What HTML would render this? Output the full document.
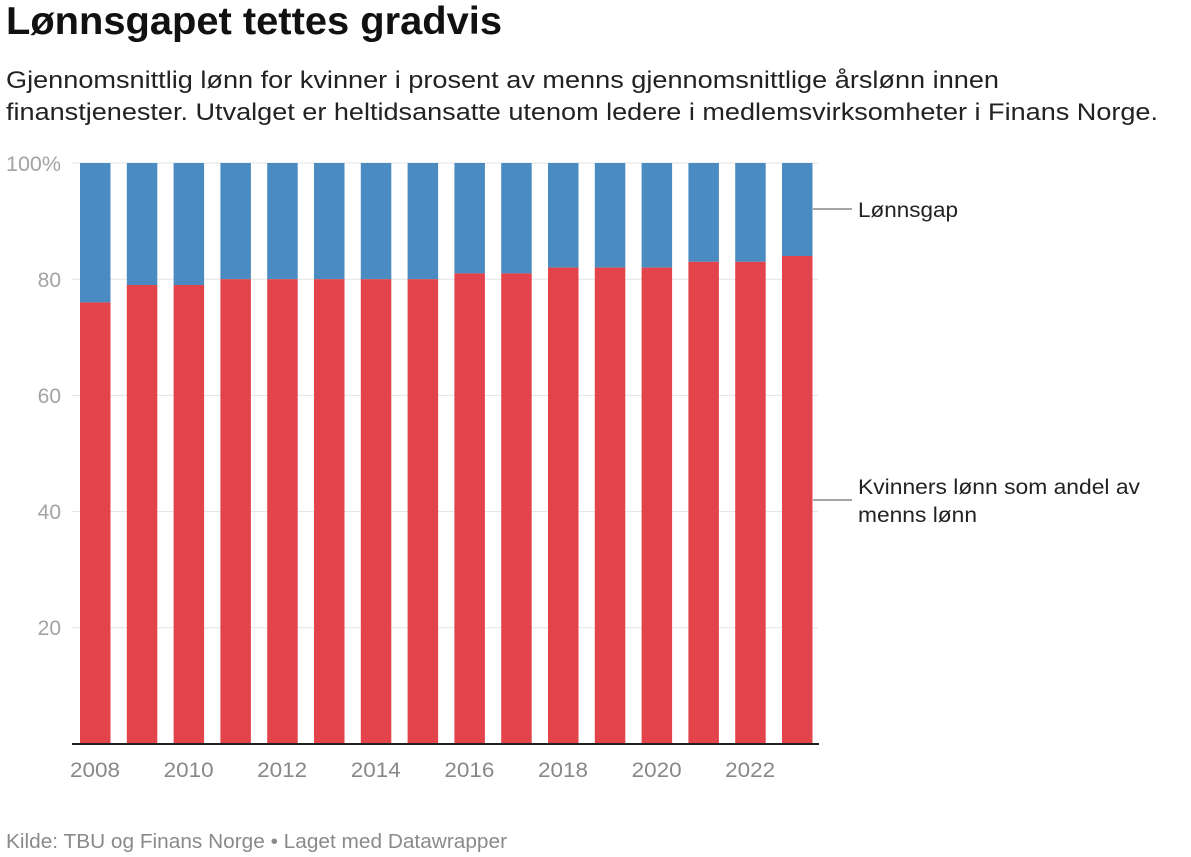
<!DOCTYPE html>
<html><head><meta charset="utf-8"><style>
html,body{margin:0;padding:0;background:#fff;}
svg{display:block;}
text{font-family:"Liberation Sans",Arial,sans-serif;}
</style></head><body>
<svg width="1191" height="857" viewBox="0 0 1191 857" xmlns="http://www.w3.org/2000/svg">
<rect width="1191" height="857" fill="#fff"/>
<text x="6" y="34" font-size="39" font-weight="bold" fill="#111" textLength="496" lengthAdjust="spacingAndGlyphs">Lønnsgapet tettes gradvis</text>
<text x="6" y="88" font-size="24" fill="#222" textLength="993" lengthAdjust="spacingAndGlyphs">Gjennomsnittlig lønn for kvinner i prosent av menns gjennomsnittlige årslønn innen</text>
<text x="6" y="120" font-size="24" fill="#222" textLength="1152" lengthAdjust="spacingAndGlyphs">finanstjenester. Utvalget er heltidsansatte utenom ledere i medlemsvirksomheter i Finans Norge.</text>
<g stroke="#e3e3e3" stroke-width="1">
<line x1="72" y1="163" x2="818" y2="163"/>
<line x1="72" y1="279.2" x2="818" y2="279.2"/>
<line x1="72" y1="395.4" x2="818" y2="395.4"/>
<line x1="72" y1="511.6" x2="818" y2="511.6"/>
<line x1="72" y1="627.8" x2="818" y2="627.8"/>
</g>
<g font-size="21" fill="#a3a3a3" text-anchor="end">
<text x="61" y="171" textLength="55" lengthAdjust="spacingAndGlyphs">100%</text>
<text x="61" y="287">80</text>
<text x="61" y="403">60</text>
<text x="61" y="519">40</text>
<text x="61" y="635">20</text>
</g>
<g font-size="21" fill="#888" text-anchor="middle">
<text x="95" y="777" textLength="50" lengthAdjust="spacingAndGlyphs">2008</text>
<text x="188.6" y="777" textLength="50" lengthAdjust="spacingAndGlyphs">2010</text>
<text x="282.2" y="777" textLength="50" lengthAdjust="spacingAndGlyphs">2012</text>
<text x="375.8" y="777" textLength="50" lengthAdjust="spacingAndGlyphs">2014</text>
<text x="469.4" y="777" textLength="50" lengthAdjust="spacingAndGlyphs">2016</text>
<text x="563" y="777" textLength="50" lengthAdjust="spacingAndGlyphs">2018</text>
<text x="656.6" y="777" textLength="50" lengthAdjust="spacingAndGlyphs">2020</text>
<text x="750.2" y="777" textLength="50" lengthAdjust="spacingAndGlyphs">2022</text>
</g>
<line x1="813" y1="209" x2="852" y2="209" stroke="#888" stroke-width="1.5"/>
<text x="858" y="217" font-size="21" fill="#222" textLength="100" lengthAdjust="spacingAndGlyphs">Lønnsgap</text>
<line x1="813" y1="500" x2="852" y2="500" stroke="#888" stroke-width="1.5"/>
<text x="858" y="494" font-size="21" fill="#222" textLength="282" lengthAdjust="spacingAndGlyphs">Kvinners lønn som andel av</text>
<text x="858" y="522" font-size="21" fill="#222" textLength="119" lengthAdjust="spacingAndGlyphs">menns lønn</text>
<text x="6" y="848" font-size="20" fill="#8a8a8a" textLength="501" lengthAdjust="spacingAndGlyphs">Kilde: TBU og Finans Norge • Laget med Datawrapper</text>
<g>
<rect x="80" y="163" width="30.5" height="139.4" fill="#4a8bc1"/><rect x="80" y="302.4" width="30.5" height="441.6" fill="#e3434a"/>
<rect x="126.8" y="163" width="30.5" height="122" fill="#4a8bc1"/><rect x="126.8" y="285" width="30.5" height="459" fill="#e3434a"/>
<rect x="173.6" y="163" width="30.5" height="122" fill="#4a8bc1"/><rect x="173.6" y="285" width="30.5" height="459" fill="#e3434a"/>
<rect x="220.4" y="163" width="30.5" height="116.2" fill="#4a8bc1"/><rect x="220.4" y="279.2" width="30.5" height="464.8" fill="#e3434a"/>
<rect x="267.2" y="163" width="30.5" height="116.2" fill="#4a8bc1"/><rect x="267.2" y="279.2" width="30.5" height="464.8" fill="#e3434a"/>
<rect x="314" y="163" width="30.5" height="116.2" fill="#4a8bc1"/><rect x="314" y="279.2" width="30.5" height="464.8" fill="#e3434a"/>
<rect x="360.8" y="163" width="30.5" height="116.2" fill="#4a8bc1"/><rect x="360.8" y="279.2" width="30.5" height="464.8" fill="#e3434a"/>
<rect x="407.6" y="163" width="30.5" height="116.2" fill="#4a8bc1"/><rect x="407.6" y="279.2" width="30.5" height="464.8" fill="#e3434a"/>
<rect x="454.4" y="163" width="30.5" height="110.4" fill="#4a8bc1"/><rect x="454.4" y="273.4" width="30.5" height="470.6" fill="#e3434a"/>
<rect x="501.2" y="163" width="30.5" height="110.4" fill="#4a8bc1"/><rect x="501.2" y="273.4" width="30.5" height="470.6" fill="#e3434a"/>
<rect x="548" y="163" width="30.5" height="104.6" fill="#4a8bc1"/><rect x="548" y="267.6" width="30.5" height="476.4" fill="#e3434a"/>
<rect x="594.8" y="163" width="30.5" height="104.6" fill="#4a8bc1"/><rect x="594.8" y="267.6" width="30.5" height="476.4" fill="#e3434a"/>
<rect x="641.6" y="163" width="30.5" height="104.6" fill="#4a8bc1"/><rect x="641.6" y="267.6" width="30.5" height="476.4" fill="#e3434a"/>
<rect x="688.4" y="163" width="30.5" height="98.8" fill="#4a8bc1"/><rect x="688.4" y="261.8" width="30.5" height="482.2" fill="#e3434a"/>
<rect x="735.2" y="163" width="30.5" height="98.8" fill="#4a8bc1"/><rect x="735.2" y="261.8" width="30.5" height="482.2" fill="#e3434a"/>
<rect x="782" y="163" width="30.5" height="93" fill="#4a8bc1"/><rect x="782" y="256" width="30.5" height="488" fill="#e3434a"/>
</g>
<line x1="72" y1="744" x2="819" y2="744" stroke="#222" stroke-width="2"/>
</svg>
</body></html>
